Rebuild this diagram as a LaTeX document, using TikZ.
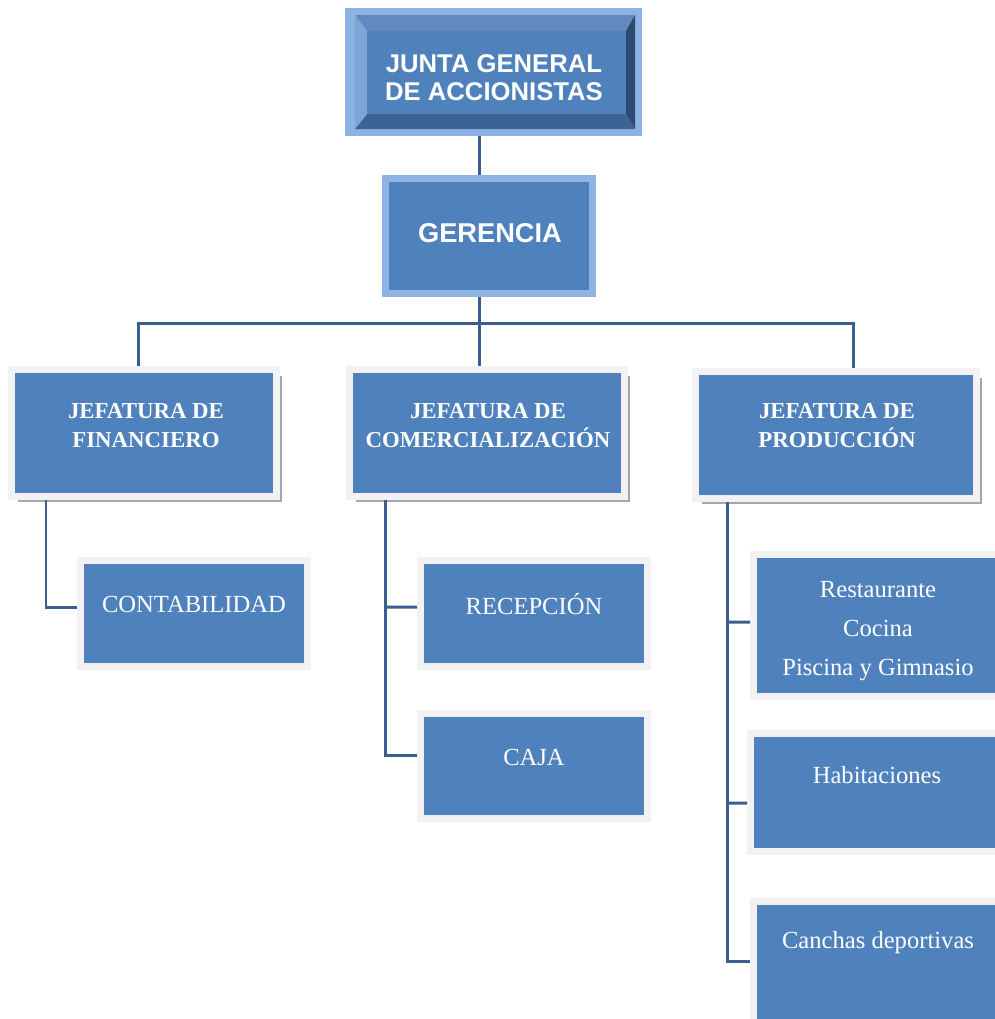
\documentclass[tikz,border=0pt]{standalone}
\usepackage{fontspec}
\setmainfont{Liberation Serif}
\setsansfont{Liberation Sans}
\usetikzlibrary{shadows}

\definecolor{boxblue}{HTML}{4F81BD}
\definecolor{boxgrey}{HTML}{F2F2F2}
\definecolor{framelight}{HTML}{8DB3E2}
\definecolor{beveltop}{HTML}{6489C0}
\definecolor{bevelleft}{HTML}{7EA4D8}
\definecolor{bevelright}{HTML}{2D4A72}
\definecolor{bevelbottom}{HTML}{3C6396}
\definecolor{linkblue}{HTML}{3A5E8D}
\definecolor{shadowgrey}{HTML}{9EA7B3}

\begin{document}
\begin{tikzpicture}[x=0.02cm,y=-0.02cm]
\tikzstyle{unit}=[rectangle, fill=boxblue, draw=boxgrey, line width=0.14cm, inner sep=0pt]
\tikzstyle{head}=[unit, drop shadow={shadow xshift=0.12cm, shadow yshift=-0.12cm, fill=shadowgrey, opacity=1}]
\tikzstyle{link}=[draw=linkblue, line width=0.06cm]
\tikzstyle{captxt}=[text=white, align=center, font=\sffamily\bfseries\fontsize{14.6}{16}\selectfont]
\tikzstyle{headtxt}=[text=white, align=center, font=\bfseries\fontsize{13}{16.5}\selectfont]
\tikzstyle{subtxt}=[text=white, align=center, font=\fontsize{14}{22}\selectfont]

\clip (0,0) rectangle (995,1019);

% Junta, bevelled frame
\node[rectangle, fill=framelight, inner sep=0pt, minimum width=5.94cm, minimum height=2.56cm] (junta) at (493.5,72) {};
\fill[beveltop] (355,15) -- (635,15) -- (626,31) -- (367,31) -- cycle;
\fill[bevelright] (635,15) -- (635,129) -- (626,114) -- (626,31) -- cycle;
\fill[bevelbottom] (355,129) -- (635,129) -- (626,114) -- (367,114) -- cycle;
\fill[bevelleft] (355,15) -- (367,31) -- (367,114) -- (355,129) -- cycle;
\fill[boxblue] (367,31) rectangle (626,114);
\node[captxt] (juntaT) at (494,78) {JUNTA GENERAL\\DE ACCIONISTAS};

% Gerencia
\node[unit, draw=framelight, minimum width=4.16cm, minimum height=2.3cm] (ger) at (489,236) {};
\node[captxt, font=\sffamily\bfseries\fontsize{15.5}{18}\selectfont] (gerT) at (490,233) {GERENCIA};

% Jefaturas
\node[head, minimum width=5.3cm, minimum height=2.54cm] (fin) at (144,433) {};
\node[head, minimum width=5.5cm, minimum height=2.54cm] (com) at (487,433) {};
\node[head, minimum width=5.62cm, minimum height=2.54cm] (prod) at (836,435) {};
\node[headtxt] (finT) at (146,426) {JEFATURA DE\\FINANCIERO};
\node[headtxt] (comT) at (488,426) {JEFATURA DE\\COMERCIALIZACIÓN};
\node[headtxt] (prodT) at (837,426) {JEFATURA DE\\PRODUCCIÓN};

% Areas
\node[unit, minimum width=4.54cm, minimum height=2.12cm] (cont) at (194,613.5) {};
\node[unit, minimum width=4.54cm, minimum height=2.12cm] (rec) at (534,613.5) {};
\node[unit, minimum width=4.54cm, minimum height=2.1cm] (caja) at (534,766) {};
\node[unit, minimum width=4.9cm, minimum height=2.84cm] (rest) at (876,625.5) {};
\node[unit, minimum width=4.96cm, minimum height=2.36cm] (hab) at (874.5,792.5) {};
\node[unit, minimum width=4.9cm, minimum height=2.5cm] (canch) at (876,964) {};
\node[subtxt] (contT) at (194,604) {CONTABILIDAD};
\node[subtxt] (recT) at (534,604) {RECEPCIÓN};
\node[subtxt] (cajaT) at (534,757) {CAJA};
\node[subtxt] (restT) at (878,631) {Restaurante\\Cocina\\Piscina y Gimnasio};
\node[subtxt] (habT) at (877,775) {Habitaciones};
\node[subtxt] (canchT) at (878,943) {Canchas deportivas};

% Connectors
\coordinate (trunk) at (479,0);
\coordinate (left) at (138,0);
\coordinate (right) at (853,0);
\coordinate (bar) at (0,323);
\coordinate (s1) at (46,0);
\coordinate (s2) at (385,0);
\coordinate (s3) at (727,0);

\draw[link] (trunk |- junta.south) -- (trunk |- ger.north);
\draw[link] (trunk |- ger.south) -- (trunk |- com.north);
\draw[link] (left |- fin.north) |- (right |- bar) -- (right |- prod.north);

\draw[link] (s1 |- fin.south) |- ([yshift=0.13cm]cont.west);
\draw[link] (s2 |- com.south) |- ([yshift=0.22cm]caja.west);
\draw[link] (s2 |- rec.west) ++(0,-6.5) -- ([yshift=0.13cm]rec.west);
\draw[link] (s3 |- prod.south) |- ([yshift=0.06cm]canch.west);
\draw[link] (s3 |- rest.west) ++(0,-3.5) -- ([yshift=0.07cm]rest.west);
\draw[link] (s3 |- hab.west) ++(0,10.5) -- ([yshift=-0.21cm]hab.west);
\end{tikzpicture}
\end{document}
